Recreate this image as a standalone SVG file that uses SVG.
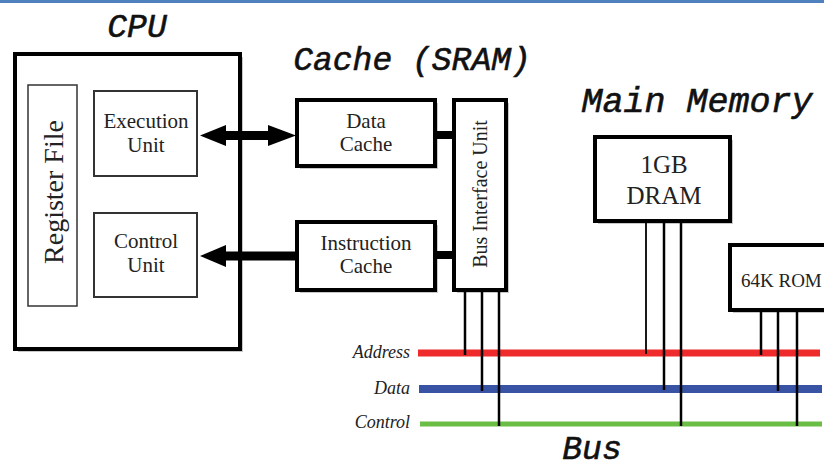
<svg xmlns="http://www.w3.org/2000/svg" width="824" height="464" viewBox="0 0 824 464">
  <style>
    .title { font-family: "Liberation Mono", "Courier New", monospace; font-style: italic; font-size: 33px; fill: #111; stroke: #111; stroke-width: 0.6; text-anchor: middle; }
    .lbl { font-family: "Liberation Serif", "Times New Roman", serif; font-size: 21px; fill: #222; text-anchor: middle; }
    .bus-lbl { font-family: "Liberation Serif", "Times New Roman", serif; font-style: italic; font-size: 18px; fill: #222; text-anchor: end; }
    .thick { fill: #fff; stroke: #000; stroke-width: 4; }
    .thin { fill: #fff; stroke: #333; stroke-width: 2; }
    .shadow { fill: #c8c8c8; }
    .drop { stroke: #000; stroke-width: 2.5; fill: none; }
    .link { stroke: #000; stroke-width: 8; fill: none; }
  </style>

  <!-- page header band -->
  <rect x="0" y="0" width="824" height="3" fill="#4f81bd"/>

  <!-- section titles -->
  <text class="title" x="137" y="37">CPU</text>
  <text class="title" x="412" y="70">Cache (SRAM)</text>
  <text class="title" x="697" y="112" style="font-size:35px">Main Memory</text>
  <text class="title" x="592" y="459">Bus</text>

  <g id="cpu">
    <rect class="shadow" x="18" y="57" width="225" height="295"/>
    <rect class="thick" x="15" y="54" width="225" height="295"/>
  </g>

  <g id="register-file">
    <rect class="thin" x="28" y="85" width="49" height="221" style="stroke-width:1.5"/>
    <text class="lbl" style="font-size:28px" transform="translate(63,192) rotate(-90)">Register File</text>
  </g>

  <g id="execution-unit">
    <rect class="thin" x="94" y="91" width="103" height="85"/>
    <text class="lbl" x="146" y="128">Execution</text>
    <text class="lbl" x="146" y="152">Unit</text>
  </g>

  <g id="control-unit">
    <rect class="thin" x="94" y="213" width="103" height="84"/>
    <text class="lbl" x="146" y="248">Control</text>
    <text class="lbl" x="146" y="272">Unit</text>
  </g>

  <g id="data-cache">
    <rect class="shadow" x="300" y="103" width="138" height="66"/>
    <rect class="thick" x="297" y="100" width="138" height="66"/>
    <text class="lbl" x="366" y="128">Data</text>
    <text class="lbl" x="366" y="151">Cache</text>
  </g>

  <g id="instruction-cache">
    <rect class="shadow" x="300" y="225" width="138" height="68"/>
    <rect class="thick" x="297" y="222" width="138" height="68"/>
    <text class="lbl" x="366" y="250">Instruction</text>
    <text class="lbl" x="366" y="273">Cache</text>
  </g>

  <g id="bus-interface-unit">
    <rect class="shadow" x="457" y="103" width="52" height="190"/>
    <rect class="thick" x="454" y="100" width="52" height="190"/>
    <text class="lbl" style="font-size:20px" transform="translate(487,194) rotate(-90)">Bus Interface Unit</text>
  </g>

  <g id="dram">
    <rect class="shadow" x="598" y="140" width="135" height="84"/>
    <rect class="thick" x="595" y="137" width="135" height="84"/>
    <text class="lbl" style="font-size:25px" x="664" y="173">1GB</text>
    <text class="lbl" style="font-size:25px" x="664" y="204">DRAM</text>
  </g>

  <g id="rom">
    <rect class="shadow" x="733" y="248" width="110" height="65"/>
    <rect class="thick" x="730" y="245" width="110" height="65"/>
    <text class="lbl" style="font-size:19px; text-anchor:start" x="741" y="287">64K ROM</text>
  </g>

  <g id="bus">
    <line x1="418" y1="353" x2="820" y2="353" stroke="#ee2a2b" stroke-width="7"/>
    <line x1="419" y1="389" x2="822" y2="389" stroke="#3953a4" stroke-width="8"/>
    <line x1="420" y1="424" x2="822" y2="424" stroke="#6abd45" stroke-width="5"/>
    <text class="bus-lbl" x="410" y="358">Address</text>
    <text class="bus-lbl" x="410" y="394">Data</text>
    <text class="bus-lbl" x="410" y="428">Control</text>
  </g>

  <g id="connectors">
    <!-- execution unit <-> data cache -->
    <line x1="222" y1="135.5" x2="272" y2="135.5" stroke="#000" stroke-width="9"/>
    <polygon points="200,135.5 226,125 226,146" fill="#000"/>
    <polygon points="296,135.5 268,125 268,146" fill="#000"/>
    <!-- instruction cache -> control unit -->
    <line x1="222" y1="256" x2="297" y2="256" stroke="#000" stroke-width="9"/>
    <polygon points="200,256 226,245 226,267" fill="#000"/>
    <!-- caches to bus interface unit -->
    <line class="link" x1="435" y1="135" x2="455" y2="135"/>
    <line class="link" x1="435" y1="255" x2="455" y2="255"/>
    <!-- bus interface unit taps -->
    <line class="drop" x1="465" y1="292" x2="465" y2="355"/>
    <line class="drop" x1="482" y1="292" x2="482" y2="391"/>
    <line class="drop" x1="499" y1="292" x2="499" y2="426"/>
    <!-- DRAM taps -->
    <line class="drop" x1="646" y1="223" x2="646" y2="354" style="stroke-width:1.8"/>
    <line class="drop" x1="664" y1="223" x2="664" y2="390"/>
    <line class="drop" x1="681" y1="223" x2="681" y2="426"/>
    <!-- ROM taps -->
    <line class="drop" x1="761" y1="312" x2="761" y2="355"/>
    <line class="drop" x1="778" y1="312" x2="778" y2="391"/>
    <line class="drop" x1="797" y1="312" x2="797" y2="426"/>
  </g>
</svg>
